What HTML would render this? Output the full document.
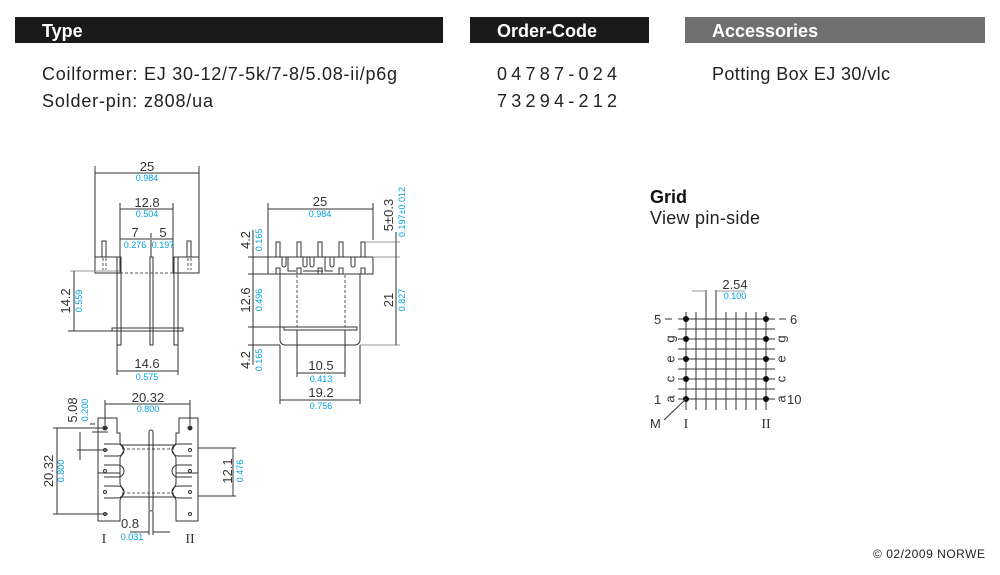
<!DOCTYPE html>
<html><head><meta charset="utf-8"><style>
html,body{margin:0;padding:0;background:#fff;}
svg{display:block;font-family:"Liberation Sans",sans-serif;}
.b{fill:#fff;font-weight:bold;font-size:18px;}
.t{fill:#222;font-size:18px;}
.d{fill:#333;font-size:13px;}
.c{fill:#00a0e0;font-size:9px;}
.l{stroke:#333;stroke-width:1;fill:none;}
.g{stroke:#999;stroke-width:1;fill:none;}
.ds{stroke:#555;stroke-width:1;fill:none;stroke-dasharray:3,2;}
</style></head><body>
<svg width="1000" height="575" viewBox="0 0 1000 575">
<rect x="15" y="17" width="428" height="26" fill="#1a1a1a"/>
<rect x="470" y="17" width="179" height="26" fill="#1a1a1a"/>
<rect x="685" y="17" width="300" height="26" fill="#707070"/>
<text x="42" y="37" class="b">Type</text>
<text x="497" y="37" class="b">Order-Code</text>
<text x="712" y="37" class="b">Accessories</text>
<text x="42" y="80" class="t" textLength="355" lengthAdjust="spacing">Coilformer:  EJ 30-12/7-5k/7-8/5.08-ii/p6g</text>
<text x="42" y="107" class="t" textLength="171" lengthAdjust="spacing">Solder-pin:  z808/ua</text>
<text x="497" y="80" class="t" textLength="120" lengthAdjust="spacing">04787-024</text>
<text x="497" y="107" class="t" textLength="120" lengthAdjust="spacing">73294-212</text>
<text x="712" y="80" class="t" textLength="178" lengthAdjust="spacing">Potting Box EJ 30/vlc</text>
<text x="650" y="203" style="font-weight:bold;font-size:18px;fill:#111">Grid</text>
<text x="650" y="224" class="t" textLength="110" lengthAdjust="spacing">View pin-side</text>
<text x="873" y="558" style="font-size:12px;fill:#222" textLength="112" lengthAdjust="spacing">© 02/2009 NORWE</text>

<!-- Front view -->
<g>
<path class="l" d="M95 166V257M199 166V257M95 173H199M120 203V257M173 203V257M120 209H173M120 239H150M152 239H173M151 233V257"/>
<text x="147" y="171" class="d" text-anchor="middle">25</text><text x="147" y="181" class="c" text-anchor="middle">0.984</text>
<text x="147" y="207" class="d" text-anchor="middle">12.8</text><text x="147" y="217" class="c" text-anchor="middle">0.504</text>
<text x="135" y="237" class="d" text-anchor="middle">7</text><text x="135" y="248" class="c" text-anchor="middle">0.276</text>
<text x="163" y="237" class="d" text-anchor="middle">5</text><text x="163" y="248" class="c" text-anchor="middle">0.197</text>
<rect class="l" x="102" y="241" width="4" height="16"/><rect class="l" x="187" y="241" width="4" height="16"/>
<path class="l" d="M95 257H120V273H95ZM173 257H199V273H173Z"/>
<path class="ds" d="M103 258V270M106 258V270M188 258V270M191 258V270M120 273H173"/>
<path class="g" d="M70 271H120"/>
<rect class="l" x="117" y="257" width="4" height="88"/><rect class="l" x="150" y="257" width="3" height="88"/><rect class="l" x="174" y="257" width="4" height="88"/>
<rect class="l" x="112" y="328" width="71" height="3"/>
<path class="l" d="M74 271V331M68 331H112M117 345V375M178 345V375M117 371H178"/>
<text transform="translate(70 301) rotate(-90)" class="d" text-anchor="middle">14.2</text>
<text transform="translate(82 301) rotate(-90)" class="c" text-anchor="middle">0.559</text>
<text x="147" y="368" class="d" text-anchor="middle">14.6</text><text x="147" y="380" class="c" text-anchor="middle">0.575</text>
</g>

<!-- Side view -->
<g>
<path class="l" d="M268 203V257M373 203V240M268 209H373"/>
<text x="320" y="206" class="d" text-anchor="middle">25</text><text x="320" y="217" class="c" text-anchor="middle">0.984</text>
<rect class="l" x="276" y="242" width="4" height="15"/><rect class="l" x="297" y="242" width="4" height="15"/><rect class="l" x="318" y="242" width="4" height="15"/><rect class="l" x="339" y="242" width="4" height="15"/><rect class="l" x="361" y="242" width="4" height="15"/>
<rect class="l" x="268" y="257" width="105" height="17"/>
<path class="l" d="M282 257v8a2 2 0 0 0 4 0v-8M303 257v8a2 2 0 0 0 4 0v-8M310 257v8a2 2 0 0 0 4 0v-8M330 257v8a2 2 0 0 0 4 0v-8M351 257v8a2 2 0 0 0 4 0v-8M276 274v-6h4v6M297 274v-6h4v6M318 274v-6h4v6M339 274v-6h4v6M361 274v-6h4v6M288 257v14h8M325 257v14h8M303 271h20"/>
<path class="l" d="M280 274V340a5 5 0 0 0 5 5H355a5 5 0 0 0 5-5V274"/>
<path class="ds" d="M297 275V327M345 275V327"/>
<rect class="l" x="284" y="327" width="73" height="3"/>
<path class="g" d="M365 242H400M373 257H400M360 345H400"/>
<path class="l" d="M253 230V365M248 257H268M248 274H280M248 327H284M248 345H280M396 232V345"/>
<text transform="translate(250 240) rotate(-90)" class="d" text-anchor="middle">4.2</text><text transform="translate(262 240) rotate(-90)" class="c" text-anchor="middle">0.165</text>
<text transform="translate(250 300) rotate(-90)" class="d" text-anchor="middle">12.6</text><text transform="translate(262 300) rotate(-90)" class="c" text-anchor="middle">0.496</text>
<text transform="translate(250 360) rotate(-90)" class="d" text-anchor="middle">4.2</text><text transform="translate(262 360) rotate(-90)" class="c" text-anchor="middle">0.165</text>
<text transform="translate(393 300) rotate(-90)" class="d" text-anchor="middle">21</text><text transform="translate(405 300) rotate(-90)" class="c" text-anchor="middle">0.827</text>
<text transform="translate(393 215) rotate(-90)" class="d" text-anchor="middle">5±0.3</text><text transform="translate(405 212) rotate(-90)" class="c" text-anchor="middle">0.197±0.012</text>
<path class="l" d="M297 330V377M345 330V377M297 373H345M280 345V404M360 345V404M280 400H360"/>
<text x="321" y="370" class="d" text-anchor="middle">10.5</text><text x="321" y="382" class="c" text-anchor="middle">0.413</text>
<text x="321" y="397" class="d" text-anchor="middle">19.2</text><text x="321" y="409" class="c" text-anchor="middle">0.756</text>
</g>

<!-- Bottom view -->
<g>
<path class="l" d="M105 400V425M190 400V425M105 404H190"/>
<text x="148" y="402" class="d" text-anchor="middle">20.32</text><text x="148" y="412" class="c" text-anchor="middle">0.800</text>
<path class="l" d="M98 418H117V433H120V443L124 450 120 458V473H98ZM98 473H120V484L124 492 120 500V521H98Z"/>
<path class="l" d="M198 418H179V433H176V443L172 450 176 458V473H198ZM198 473H176V484L172 492 176 500V521H198Z"/>
<path class="l" d="M120 445H176M120 497H176"/>
<path class="ds" d="M122 449H174M122 493H174"/>
<path class="l" d="M104 444H118a6 6 0 0 1 0 12H104M104 465H118a6 6 0 0 1 0 12H104M104 486H118a6 6 0 0 1 0 12H104M192 444H178a6 6 0 0 0 0 12H192M192 465H178a6 6 0 0 0 0 12H192M192 486H178a6 6 0 0 0 0 12H192"/>
<g fill="none" stroke="#333"><circle cx="105" cy="428" r="2" fill="#333"/><circle cx="105" cy="450" r="1.5"/><circle cx="105" cy="471" r="1.5"/><circle cx="105" cy="492" r="1.5"/><circle cx="105" cy="514" r="1.5"/>
<circle cx="190" cy="428" r="2" fill="#333"/><circle cx="190" cy="450" r="1.5"/><circle cx="190" cy="471" r="1.5"/><circle cx="190" cy="492" r="1.5"/><circle cx="190" cy="514" r="1.5"/></g>
<rect class="l" x="149" y="430" width="4" height="81" rx="2"/>
<path class="l" d="M95 424H90M95 514H90M92 432H108M53 428H108M53 514H108M57 428V514M77 450H108M80 432V460M198 448H236M198 496H236M233 448V496M149 511V535M153 511V535M130 532H149M153 532H170"/>
<text transform="translate(77 410) rotate(-90)" class="d" text-anchor="middle">5.08</text><text transform="translate(88 410) rotate(-90)" class="c" text-anchor="middle">0.200</text>
<text transform="translate(53 471) rotate(-90)" class="d" text-anchor="middle">20.32</text><text transform="translate(64 471) rotate(-90)" class="c" text-anchor="middle">0.800</text>
<text transform="translate(232 471) rotate(-90)" class="d" text-anchor="middle">12.1</text><text transform="translate(243 471) rotate(-90)" class="c" text-anchor="middle">0.476</text>
<text x="130" y="528" class="d" text-anchor="middle">0.8</text><text x="132" y="540" class="c" text-anchor="middle">0.031</text>
<text x="104" y="543" style="font-family:'Liberation Serif',serif;font-size:14px;fill:#333" text-anchor="middle">I</text>
<text x="190" y="543" style="font-family:'Liberation Serif',serif;font-size:14px;fill:#333" text-anchor="middle">II</text>
</g>

<!-- Grid -->
<g>
<path class="l" d="M678 319H775M678 329H775M678 339H775M678 349H775M678 359H775M678 369H775M678 379H775M678 389H775M678 399H775"/>
<path class="l" d="M686 312V410M696 312V410M706 290V410M716 290V410M726 312V410M736 312V410M746 312V410M756 312V410M766 312V410"/>
<path class="g" d="M692 291H706M716 291H745"/>
<text x="735" y="289" class="d" text-anchor="middle">2.54</text><text x="735" y="299" class="c" text-anchor="middle">0.100</text>
<g fill="#111"><circle cx="686" cy="319" r="3"/><circle cx="686" cy="339" r="3"/><circle cx="686" cy="359" r="3"/><circle cx="686" cy="379" r="3"/><circle cx="686" cy="399" r="3"/>
<circle cx="766" cy="319" r="3"/><circle cx="766" cy="339" r="3"/><circle cx="766" cy="359" r="3"/><circle cx="766" cy="379" r="3"/><circle cx="766" cy="399" r="3"/></g>
<path class="l" d="M665 319H672M779 319H786M686 399L664 420"/>
<text x="654" y="324" class="d">5</text><text x="790" y="324" class="d">6</text>
<text x="654" y="404" class="d">1</text><text x="787" y="404" class="d">10</text>
<text transform="translate(671 339) rotate(-90)" class="d" text-anchor="middle" dominant-baseline="middle">g</text>
<text transform="translate(671 359) rotate(-90)" class="d" text-anchor="middle" dominant-baseline="middle">e</text>
<text transform="translate(671 379) rotate(-90)" class="d" text-anchor="middle" dominant-baseline="middle">c</text>
<text transform="translate(671 399) rotate(-90)" class="d" text-anchor="middle" dominant-baseline="middle">a</text>
<text transform="translate(782 339) rotate(-90)" class="d" text-anchor="middle" dominant-baseline="middle">g</text>
<text transform="translate(782 359) rotate(-90)" class="d" text-anchor="middle" dominant-baseline="middle">e</text>
<text transform="translate(782 379) rotate(-90)" class="d" text-anchor="middle" dominant-baseline="middle">c</text>
<text transform="translate(782 399) rotate(-90)" class="d" text-anchor="middle" dominant-baseline="middle">a</text>
<text x="650" y="428" class="d">M</text>
<text x="686" y="428" style="font-family:'Liberation Serif',serif;font-size:14px;fill:#333" text-anchor="middle">I</text>
<text x="766" y="428" style="font-family:'Liberation Serif',serif;font-size:14px;fill:#333" text-anchor="middle">II</text>
</g>
</svg>
</body></html>
